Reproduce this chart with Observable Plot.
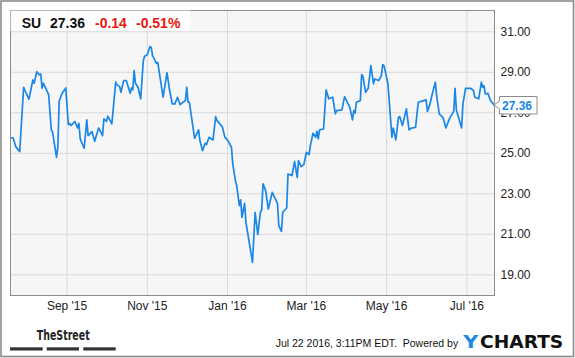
<!DOCTYPE html>
<html><head><meta charset="utf-8">
<script src="https://cdn.jsdelivr.net/npm/d3@7"></script>
<script src="https://cdn.jsdelivr.net/npm/@observablehq/plot@0.6"></script>
<style>
html,body{margin:0;padding:0;background:#fff;}
#chart{width:575px;height:358px;position:relative;}
</style></head><body><div id="chart"></div>
<script>
const dates = ["2015-07-21","2015-07-22","2015-07-24","2015-07-27","2015-07-30","2015-07-31","2015-08-03","2015-08-06","2015-08-07","2015-08-09","2015-08-11","2015-08-12","2015-08-13","2015-08-14","2015-08-18","2015-08-20","2015-08-21","2015-08-24","2015-08-25","2015-08-26","2015-08-28","2015-08-31","2015-09-02","2015-09-03","2015-09-04","2015-09-07","2015-09-09","2015-09-10","2015-09-11","2015-09-14","2015-09-16","2015-09-17","2015-09-20","2015-09-22","2015-09-25","2015-09-28","2015-09-29","2015-10-01","2015-10-02","2015-10-05","2015-10-06","2015-10-08","2015-10-09","2015-10-11","2015-10-12","2015-10-14","2015-10-16","2015-10-19","2015-10-20","2015-10-21","2015-10-22","2015-10-23","2015-10-25","2015-10-27","2015-10-29","2015-10-30","2015-11-01","2015-11-03","2015-11-04","2015-11-05","2015-11-08","2015-11-09","2015-11-13","2015-11-16","2015-11-18","2015-11-20","2015-11-22","2015-11-24","2015-11-26","2015-11-28","2015-11-30","2015-12-01","2015-12-02","2015-12-03","2015-12-07","2015-12-10","2015-12-11","2015-12-13","2015-12-15","2015-12-16","2015-12-18","2015-12-21","2015-12-23","2015-12-24","2015-12-28","2015-12-30","2016-01-01","2016-01-04","2016-01-05","2016-01-07","2016-01-08","2016-01-10","2016-01-11","2016-01-12","2016-01-14","2016-01-15","2016-01-20","2016-01-22","2016-01-24","2016-01-26","2016-01-27","2016-01-28","2016-01-30","2016-02-01","2016-02-04","2016-02-08","2016-02-09","2016-02-11","2016-02-12","2016-02-15","2016-02-16","2016-02-19","2016-02-21","2016-02-23","2016-02-24","2016-02-26","2016-02-28","2016-03-01","2016-03-03","2016-03-04","2016-03-06","2016-03-08","2016-03-09","2016-03-10","2016-03-11","2016-03-14","2016-03-16","2016-03-18","2016-03-21","2016-03-23","2016-03-24","2016-03-28","2016-03-30","2016-04-03","2016-04-05","2016-04-06","2016-04-07","2016-04-08","2016-04-11","2016-04-12","2016-04-13","2016-04-15","2016-04-17","2016-04-19","2016-04-21","2016-04-22","2016-04-25","2016-04-27","2016-04-28","2016-04-29","2016-05-02","2016-05-05","2016-05-06","2016-05-08","2016-05-10","2016-05-11","2016-05-13","2016-05-16","2016-05-18","2016-05-20","2016-05-23","2016-05-25","2016-05-29","2016-05-31","2016-06-01","2016-06-03","2016-06-04","2016-06-07","2016-06-08","2016-06-10","2016-06-13","2016-06-15","2016-06-18","2016-06-21","2016-06-22","2016-06-23","2016-06-27","2016-06-28","2016-06-30","2016-07-04","2016-07-06","2016-07-07","2016-07-10","2016-07-12","2016-07-13","2016-07-14","2016-07-15","2016-07-17","2016-07-19","2016-07-20","2016-07-22"];
const prices = [25.76,25.76,25.33,25.08,28.26,28.10,27.67,28.62,28.46,29.03,28.87,28.92,28.21,28.46,27.90,26.16,26.04,24.80,25.30,27.57,27.93,28.23,26.42,26.48,26.37,26.57,26.25,26.48,25.71,25.25,26.65,25.87,26.07,25.59,26.25,25.87,26.70,26.58,26.83,26.45,27.11,28.51,28.38,28.29,28.01,28.59,28.59,27.96,28.23,28.13,29.08,28.46,28.26,27.69,29.58,29.79,29.87,30.27,30.23,29.82,29.44,29.48,27.77,28.97,28.10,27.44,27.44,27.77,27.40,27.52,27.60,28.26,27.52,27.52,25.74,26.16,25.63,25.13,25.49,25.43,25.79,25.66,26.81,26.61,26.32,25.79,25.66,25.30,24.48,23.65,23.40,22.42,22.70,21.84,22.53,21.59,19.62,22.09,20.99,22.09,22.20,23.49,23.16,22.25,23.07,22.53,21.43,21.15,22.09,22.30,23.98,23.90,24.60,23.81,24.64,24.34,24.44,25.05,24.94,25.38,25.99,25.79,26.09,25.71,26.16,26.20,28.13,27.69,27.77,26.95,27.11,27.14,27.80,27.27,26.65,27.11,26.98,27.52,27.60,28.89,28.79,28.01,28.21,29.33,28.43,28.67,28.59,28.84,29.38,29.33,28.43,25.79,26.25,25.66,26.78,26.81,26.37,27.19,26.16,26.25,26.28,27.52,27.60,27.64,27.07,27.44,27.74,28.51,27.85,26.95,26.75,26.25,26.75,27.07,28.21,27.14,26.25,27.44,28.21,28.21,28.10,27.77,27.69,28.51,28.26,28.34,27.93,27.96,27.60,27.52,27.36];
const yTicks = [19, 21, 23, 25, 27, 29, 31];
const xTicks = ["2015-09-01", "2015-11-01", "2016-01-01", "2016-03-01", "2016-05-01", "2016-07-01"];
const ticker = "SU";
const lastPrice = "27.36";
const change = "-0.14";
const changePct = "-0.51%";
const stamp = "Jul 22 2016, 3:11PM EDT.  Powered by";

const parse = s => new Date(s + "T00:00:00Z");
const data = dates.map((d, i) => ({date: parse(d), price: prices[i]}));
const xTickDates = xTicks.map(parse);
const FONT = "'Liberation Sans', Arial, sans-serif";
const BLUE = "#1a87e6";

const chart = Plot.plot({
  width: 575, height: 358,
  marginLeft: 10, marginRight: 81, marginTop: 10, marginBottom: 63,
  style: {fontFamily: FONT, fontSize: "12px", color: "#222", background: "#fff"},
  x: {type: "utc", domain: [parse("2015-07-20"), parse("2016-07-22")], ticks: xTickDates,
      tickFormat: d3.utcFormat("%b '%y"), tickSize: 0, tickPadding: 6, label: null},
  y: {domain: [17.98, 32.05], axis: "right", ticks: yTicks, tickFormat: d => d.toFixed(2),
      tickSize: 0, tickPadding: 6, label: null},
  marks: [
    Plot.frame({fill: "#f6f6f6", stroke: null}),
    Plot.ruleY(yTicks, {stroke: "#d9d9d9"}),
    Plot.ruleX(xTickDates, {stroke: "#d9d9d9"}),
    Plot.lineY(data, {x: "date", y: "price", stroke: BLUE, strokeWidth: 1.7}),
    Plot.frame({stroke: "#8c8c8c"})
  ]
});
document.getElementById("chart").appendChild(chart);

const svg = d3.select(chart);
const sx = chart.scale("x"), sy = chart.scale("y");
const last = data[data.length - 1];
const lx = sx.apply(last.date), ly = sy.apply(last.price);
const g = svg.append("g").attr("text-anchor", "start");

// last value callout
g.append("path")
  .attr("d", `M${lx},${ly} L${lx + 5.5},${ly - 4} V${ly - 8.5} H${lx + 43} V${ly + 9} H${lx + 5.5} V${ly + 4} Z`)
  .attr("fill", "#fff").attr("stroke", "#8c8c8c").attr("stroke-width", 1);
g.append("text").attr("x", lx + 8).attr("y", ly + 4.6)
  .attr("font-family", FONT).attr("font-weight", "bold").attr("font-size", 12)
  .attr("fill", BLUE).text(lastPrice);

// title box
g.append("rect").attr("x", 10.5).attr("y", 10.5).attr("width", 180).attr("height", 20.5)
  .attr("fill", "#fff").attr("fill-opacity", 0.72);
const title = [[ticker, 21.7, "#111"], [lastPrice, 50, "#111"], [change, 95, "#e8170f"], [changePct, 136, "#e8170f"]];
title.forEach(([t, x, c]) => {
  g.append("text").attr("x", x).attr("y", 28.3).attr("font-family", FONT)
    .attr("font-weight", "bold").attr("font-size", 14).attr("fill", c).text(t);
});

// footer: TheStreet logo
g.append("text").attr("x", 36.7).attr("y", 340).attr("font-family", "'Liberation Sans Narrow', 'DejaVu Sans Condensed', sans-serif")
  .attr("font-weight", "bold").attr("font-size", 14.5).attr("fill", "#222")
  .attr("textLength", 53).attr("lengthAdjust", "spacingAndGlyphs").text("TheStreet");
[[10, 42.7], [46.7, 79], [83.3, 115.7]].forEach(([a, b]) => {
  g.append("rect").attr("x", a).attr("y", 347.3).attr("width", b - a).attr("height", 3.2).attr("fill", "#333");
});

// footer: timestamp + YCHARTS
g.append("text").attr("x", 275.7).attr("y", 347.3).attr("font-family", FONT)
  .attr("font-size", 10.5).attr("fill", "#111").style("white-space", "pre").text(stamp);
g.append("text").attr("x", 463.3).attr("y", 348.3).attr("font-family", "'DejaVu Sans', sans-serif")
  .attr("font-weight", "bold").attr("font-size", 18.5).attr("fill", "#1a8ae5")
  .attr("textLength", 15).attr("lengthAdjust", "spacingAndGlyphs").text("Y");
g.append("text").attr("x", 480).attr("y", 348.3).attr("font-family", "'DejaVu Sans', sans-serif")
  .attr("font-weight", "bold").attr("font-size", 18.5).attr("fill", "#111")
  .attr("textLength", 83.3).attr("lengthAdjust", "spacingAndGlyphs").text("CHARTS");

// outer frame
g.append("rect").attr("x", 1).attr("y", 1).attr("width", 572.5).attr("height", 355.5)
  .attr("fill", "none").attr("stroke", "#8a8a8a").attr("stroke-width", 1.6);
</script></body></html>
